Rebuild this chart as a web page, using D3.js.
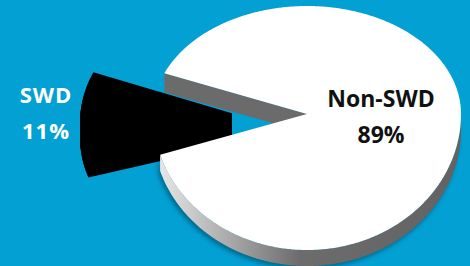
<!DOCTYPE html>
<html>
<head>
<meta charset="utf-8">
<script src="https://cdn.jsdelivr.net/npm/d3@7"></script>
<style>
  body { margin: 0; background: #03a0d3; }
  svg { display: block; }
</style>
</head>
<body>
<div class="canva"></div>
<script>
// chart data
const categories = ["Non-SWD", "SWD"];
const values = [89, 11];
const topColors = ["#ffffff", "#000000"];
const labelColors = ["#111111", "#ffffff"];

const W = 470, H = 266;

const svg = d3.select(".canva").append("svg")
              .attr("width", W)
              .attr("height", H);

const defs = svg.append("defs");

// side gradient of the white slab
const grad = defs.append("linearGradient")
                 .attr("id", "sideGrad")
                 .attr("gradientUnits", "userSpaceOnUse")
                 .attr("x1", 160).attr("x2", 470).attr("y1", 0).attr("y2", 0);
grad.append("stop").attr("offset", "0%").attr("stop-color", "#e6e6e6");
grad.append("stop").attr("offset", "45%").attr("stop-color", "#6c6c6c");
grad.append("stop").attr("offset", "100%").attr("stop-color", "#626262");

const blur = defs.append("filter").attr("id", "shadow")
                 .attr("x", "-20%").attr("y", "-20%").attr("width", "140%").attr("height", "140%");
blur.append("feGaussianBlur").attr("stdDeviation", 2);

defs.append("clipPath").attr("id", "cutBlack")
    .append("rect").attr("x", 0).attr("y", 0).attr("width", 232).attr("height", H);

// pie layout: small slice centred on the left
const start = -0.377 * Math.PI;
const pie = d3.pie().sort(null).startAngle(start).endAngle(start + 2 * Math.PI);
const slices = pie(values);

// disc geometry (far half flatter than near half, rough perspective)
const main = { cx: 307, cy: 114, rx: 154, ryTop: 108, ryBot: 136, h: 16, cutH: 19 };
const boom = { cx: 262, cy: 122, rx: 182, ryTop: 132, ryBot: 132, h: 16 };

const pt = (g, a, dy = 0) => {
  const c = Math.cos(a);
  return [g.cx + g.rx * Math.sin(a), g.cy - (c > 0 ? g.ryTop : g.ryBot) * c + dy];
};
const arcPts = (g, a0, a1, dy = 0) =>
  d3.range(a0, a1, 0.01).concat([a1]).map(a => pt(g, a, dy));
const line = d3.line();
const wedge = (g, s, dy = 0) =>
  line([[g.cx, g.cy + dy]].concat(arcPts(g, s.startAngle, s.endAngle, dy))) + "Z";

// exploded black slice, extruded (goes behind the disc)
const bg = svg.append("g").attr("clip-path", "url(#cutBlack)");
bg.selectAll("path")
  .data(d3.range(boom.h, -1, -1))
  .join("path")
  .attr("d", dy => wedge(boom, slices[1], dy))
  .attr("fill", topColors[1]);

const s0 = slices[0];

// outer side wall of the white slice, front half only
const sideTop = arcPts(main, Math.PI / 2, s0.endAngle);
const sidePts = sideTop.concat(arcPts(main, Math.PI / 2, s0.endAngle, main.h).reverse());

svg.append("path")
   .attr("d", line(sidePts) + "Z")
   .attr("transform", "translate(-2,3)")
   .attr("fill", "#05384f")
   .attr("opacity", 0.5)
   .attr("filter", "url(#shadow)");

svg.append("path")
   .attr("d", line(sidePts) + "Z")
   .attr("fill", "url(#sideGrad)");

// cut face at the start of the white slice
const e0 = pt(main, s0.startAngle);
svg.append("path")
   .attr("d", line([[main.cx, main.cy], e0, [e0[0], e0[1] + main.cutH], [main.cx, main.cy + main.cutH]]) + "Z")
   .attr("fill", "#6b6b6b");

// top face of the white slice
svg.append("path")
   .attr("d", wedge(main, s0))
   .attr("fill", topColors[0]);

// labels
const labelPos = [[381, 107], [46, 103]];
const fontSizes = [23, 22];
const spacing = [0, 1];

categories.forEach((c, i) => {
  const t = svg.append("text")
               .attr("text-anchor", "middle")
               .attr("font-family", "'Open Sans', sans-serif")
               .attr("font-weight", "bold")
               .attr("font-size", fontSizes[i])
               .attr("letter-spacing", spacing[i])
               .attr("fill", labelColors[i]);
  t.append("tspan").attr("x", labelPos[i][0]).attr("y", labelPos[i][1]).text(c);
  t.append("tspan").attr("x", labelPos[i][0]).attr("y", labelPos[i][1] + 36).text(values[i] + "%");
});
</script>
</body>
</html>
